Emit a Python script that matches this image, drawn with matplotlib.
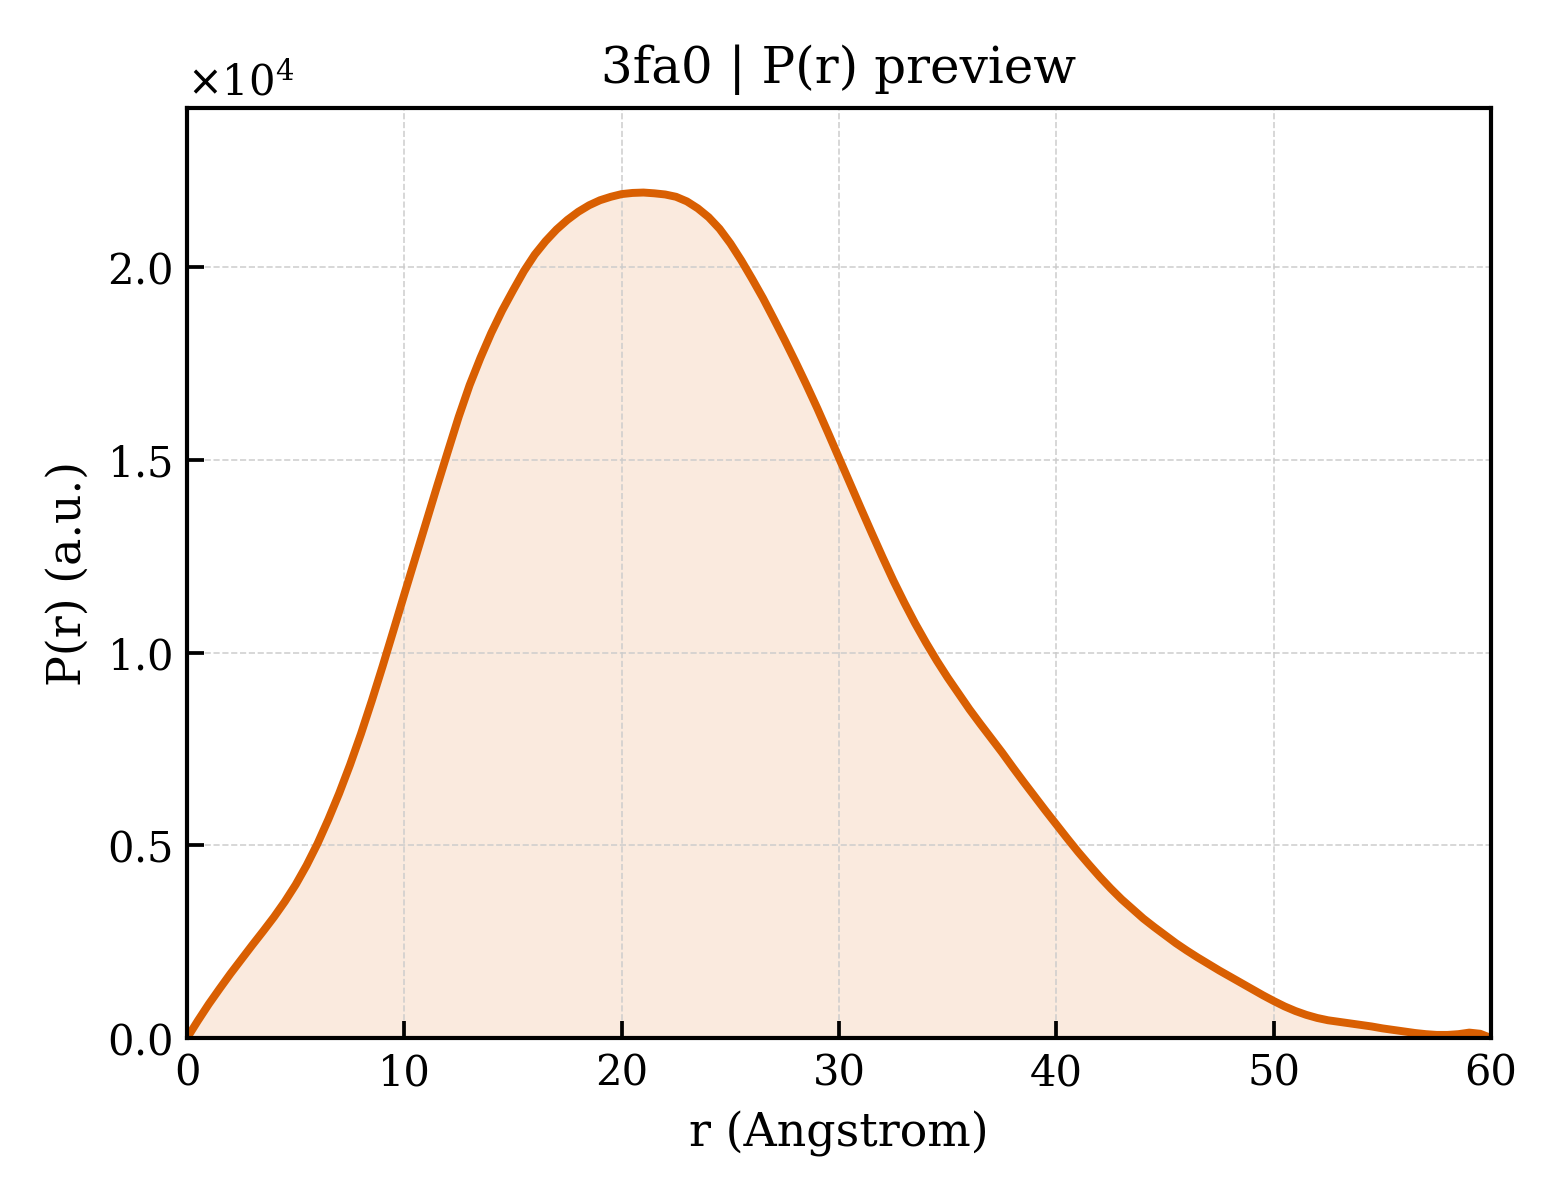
import numpy as np
import matplotlib
matplotlib.use("Agg")
import matplotlib.pyplot as plt
from matplotlib.ticker import ScalarFormatter

# r grid in Angstrom (0.5 A steps)
r_values = [i * 0.5 for i in range(121)]
# P(r) in units of 1e4
p_values_e4 = [
    0.0, 0.045, 0.088, 0.128, 0.167, 0.204, 0.241, 0.277, 0.314, 0.354,
    0.398, 0.448, 0.504, 0.567, 0.635, 0.709, 0.789, 0.875, 0.965, 1.058,
    1.152, 1.245, 1.338, 1.431, 1.522, 1.612, 1.694, 1.765, 1.830, 1.888,
    1.940, 1.990, 2.033, 2.068, 2.098, 2.123, 2.144, 2.161, 2.174, 2.183,
    2.190, 2.193, 2.194, 2.192, 2.189, 2.183, 2.171, 2.153, 2.130, 2.100,
    2.062, 2.018, 1.970, 1.920, 1.866, 1.811, 1.754, 1.695, 1.634, 1.570,
    1.505, 1.440, 1.375, 1.311, 1.248, 1.187, 1.130, 1.076, 1.026, 0.979,
    0.935, 0.894, 0.853, 0.815, 0.778, 0.741, 0.702, 0.664, 0.627, 0.590,
    0.554, 0.518, 0.483, 0.450, 0.418, 0.388, 0.360, 0.335, 0.310, 0.288,
    0.267, 0.246, 0.227, 0.209, 0.192, 0.175, 0.159, 0.143, 0.127, 0.111,
    0.096, 0.082, 0.070, 0.060, 0.052, 0.046, 0.042, 0.038, 0.034, 0.030,
    0.025, 0.021, 0.017, 0.013, 0.010, 0.008, 0.008, 0.010, 0.014, 0.011,
    0.0,
]
r = np.array(r_values, dtype=float)
p = np.array(p_values_e4) * 1e4

title = "3fa0 | P(r) preview"
xlabel = "r (Angstrom)"
ylabel = "P(r) (a.u.)"
color = "#D95F02"

plt.rcParams["font.family"] = ["DejaVu Serif"]
fig = plt.figure(figsize=(5.2, 4.0), dpi=300)
ax = fig.add_axes([0.1199, 0.135, 0.9558 - 0.1199, 0.91 - 0.135])

ax.fill_between(r, p, 0, color=color, alpha=0.13, linewidth=0)
ax.plot(r, p, color=color, linewidth=1.9)

ax.set_xlim(0, 60)
ax.set_ylim(0, p.max() * 1.1)
ax.set_xticks([0, 10, 20, 30, 40, 50, 60])
ax.set_yticks([0, 5000, 10000, 15000, 20000])

fmt = ScalarFormatter(useMathText=True)
fmt.set_powerlimits((0, 0))
ax.yaxis.set_major_formatter(fmt)
ax.yaxis.get_offset_text().set_fontsize(10)

ax.tick_params(direction="in", length=4, width=0.9, labelsize=10)
for s in ax.spines.values():
    s.set_linewidth(1.0)
ax.grid(True, linestyle="--", linewidth=0.4, color="#cccccc", alpha=0.9)

ax.set_title(title, fontsize=12)
ax.set_xlabel(xlabel, fontsize=11)
ax.set_ylabel(ylabel, fontsize=11)

fig.savefig("out.png", dpi=300)
